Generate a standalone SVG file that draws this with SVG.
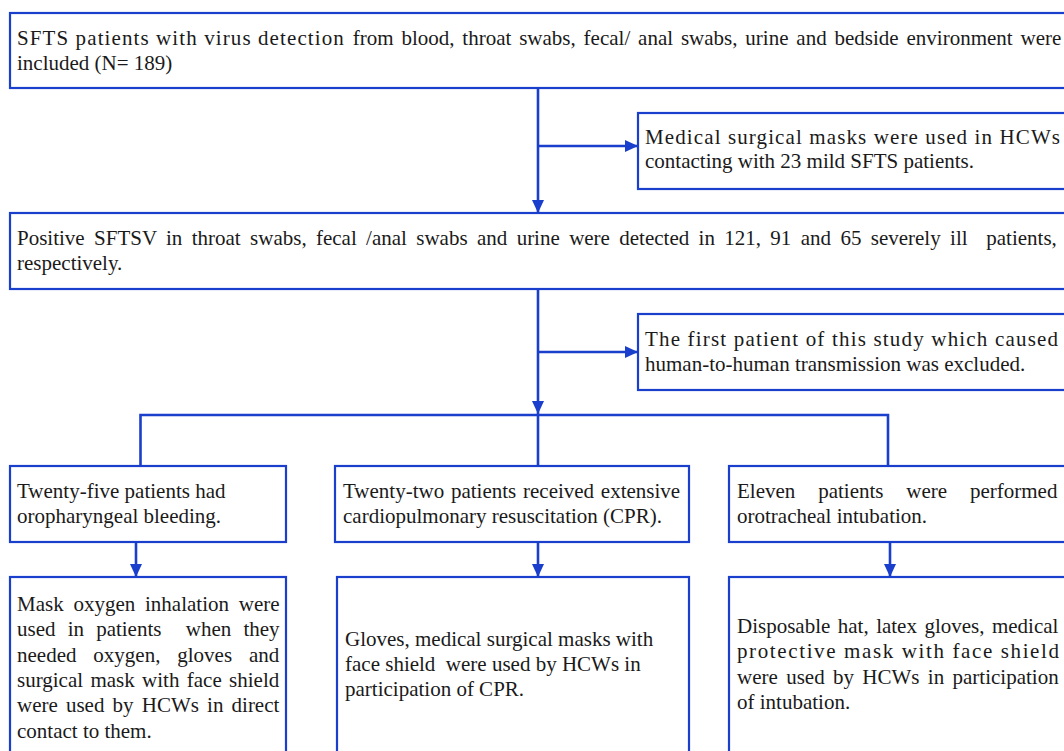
<svg xmlns="http://www.w3.org/2000/svg" width="1064" height="751" viewBox="0 0 1064 751" font-family="'Liberation Serif', 'Times New Roman', Times, serif" font-size="21">
<style>
.box{fill:#ffffff;stroke:#1a3fcc;stroke-width:2.2}
.con{stroke:#1a3fcc;stroke-width:2.6;fill:none}
.t{font-family:'Liberation Serif','Times New Roman',Times,serif;font-size:21px;fill:#1a1a1a;white-space:pre}
</style>
<defs>
<marker id="ah" markerUnits="userSpaceOnUse" markerWidth="14" markerHeight="14" viewBox="0 0 14 14" refX="13" refY="7" orient="auto">
<path d="M0,1 L13,7 L0,13 Z" fill="#1a3fcc"/>
</marker>
</defs>
<rect width="1064" height="751" fill="#ffffff"/>
<g id="connectors">
<line class="con" x1="538" y1="88" x2="538" y2="213" marker-end="url(#ah)"/>
<line class="con" x1="538" y1="146" x2="638" y2="146" marker-end="url(#ah)"/>
<line class="con" x1="538" y1="289" x2="538" y2="414" marker-end="url(#ah)"/>
<line class="con" x1="538" y1="352" x2="638" y2="352" marker-end="url(#ah)"/>
<polyline class="con" points="140.5,466 140.5,415 888,415 888,466"/>
<line class="con" x1="538" y1="414" x2="538" y2="466"/>
<line class="con" x1="136" y1="542" x2="136" y2="577" marker-end="url(#ah)"/>
<line class="con" x1="538" y1="542" x2="538" y2="577" marker-end="url(#ah)"/>
<line class="con" x1="890" y1="542" x2="890" y2="577" marker-end="url(#ah)"/>
</g>
<g id="node-included">
<rect class="box" x="10" y="13" width="1070" height="75"/>
<text class="t" x="17" y="45"><tspan letter-spacing="1.1">SFTS patients with virus detection</tspan><tspan word-spacing="2.6"> from blood, throat swabs, fecal/ anal swabs, urine and bedside environment were</tspan></text>
<text class="t" x="17" y="70">included (N= 189)</text>
</g>
<g id="node-mild">
<rect class="box" x="638" y="113" width="440" height="76"/>
<text class="t" x="645" y="144" textLength="415" lengthAdjust="spacing">Medical surgical masks were used in HCWs</text>
<text class="t" x="645" y="168">contacting with 23 mild SFTS patients.</text>
</g>
<g id="node-positive">
<rect class="box" x="10" y="213" width="1070" height="76"/>
<text class="t" x="17" y="245" word-spacing="4.1">Positive SFTSV in throat swabs, fecal /anal swabs and urine were detected in 121, 91 and 65 severely ill  patients,</text>
<text class="t" x="17" y="270">respectively.</text>
</g>
<g id="node-excluded">
<rect class="box" x="638" y="314" width="440" height="76"/>
<text class="t" x="645" y="346" textLength="413" lengthAdjust="spacing">The first patient of this study which caused</text>
<text class="t" x="645" y="371">human-to-human transmission was excluded.</text>
</g>
<g id="node-bleeding">
<rect class="box" x="10" y="466" width="276" height="76"/>
<text class="t" x="17" y="498">Twenty-five patients had</text>
<text class="t" x="17" y="523">oropharyngeal bleeding.</text>
</g>
<g id="node-cpr">
<rect class="box" x="335" y="466" width="354" height="76"/>
<text class="t" x="343" y="498" word-spacing="1.5">Twenty-two patients received extensive</text>
<text class="t" x="343" y="523">cardiopulmonary resuscitation (CPR).</text>
</g>
<g id="node-intubation">
<rect class="box" x="729" y="466" width="350" height="76"/>
<text class="t" x="737" y="498" word-spacing="17.6">Eleven patients were performed</text>
<text class="t" x="737" y="523">orotracheal intubation.</text>
</g>
<g id="node-bleeding-ppe">
<rect class="box" x="10" y="577" width="276" height="190"/>
<text class="t" x="17" y="611" word-spacing="4.5">Mask oxygen inhalation were</text>
<text class="t" x="17" y="636" word-spacing="6.9">used in patients  when they</text>
<text class="t" x="17" y="662" word-spacing="11.6">needed oxygen, gloves and</text>
<text class="t" x="17" y="687" word-spacing="2.1">surgical mask with face shield</text>
<text class="t" x="17" y="712" word-spacing="2.9">were used by HCWs in direct</text>
<text class="t" x="17" y="738">contact to them.</text>
</g>
<g id="node-cpr-ppe">
<rect class="box" x="337" y="577" width="352" height="190"/>
<text class="t" x="345" y="646">Gloves, medical surgical masks with</text>
<text class="t" x="345" y="671">face shield  were used by HCWs in</text>
<text class="t" x="345" y="696">participation of CPR.</text>
</g>
<g id="node-intubation-ppe">
<rect class="box" x="729" y="577" width="350" height="190"/>
<text class="t" x="737" y="633" word-spacing="2.2">Disposable hat, latex gloves, medical</text>
<text class="t" x="737" y="658" textLength="322" lengthAdjust="spacing">protective mask with face shield</text>
<text class="t" x="737" y="684" word-spacing="3.1">were used by HCWs in participation</text>
<text class="t" x="737" y="709">of intubation.</text>
</g>
</svg>
